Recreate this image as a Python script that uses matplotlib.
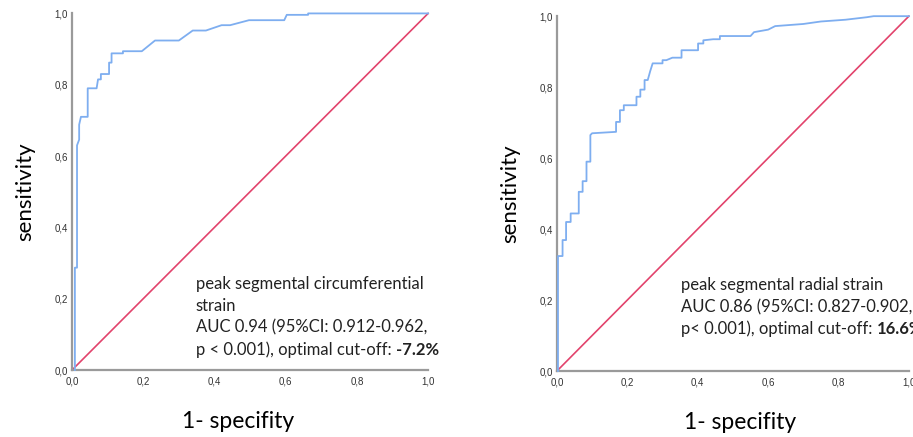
import numpy as np
import matplotlib
matplotlib.use("Agg")
import matplotlib.pyplot as plt
from matplotlib.ticker import FuncFormatter

# ROC curve vertices (fpr, tpr)
circ_fpr = [0.008, 0.008, 0.014, 0.014, 0.020, 0.020, 0.025, 0.044, 0.044, 0.069, 0.073, 0.081,
            0.081, 0.104, 0.104, 0.111, 0.111, 0.143, 0.143, 0.196, 0.233, 0.300, 0.339, 0.376,
            0.420, 0.444, 0.497, 0.596, 0.603, 0.663, 0.663, 1.0]
circ_tpr = [0.0, 0.287, 0.287, 0.630, 0.646, 0.688, 0.710, 0.710, 0.790, 0.790, 0.815, 0.815,
            0.830, 0.830, 0.862, 0.862, 0.888, 0.888, 0.894, 0.894, 0.924, 0.924, 0.952, 0.952,
            0.967, 0.967, 0.981, 0.981, 0.996, 0.996, 1.0, 1.0]

rad_fpr = [0.003, 0.003, 0.016, 0.016, 0.026, 0.026, 0.039, 0.039, 0.062, 0.062, 0.073, 0.073,
           0.084, 0.084, 0.095, 0.095, 0.100, 0.168, 0.168, 0.179, 0.179, 0.190, 0.190, 0.226,
           0.226, 0.237, 0.237, 0.249, 0.249, 0.258, 0.265, 0.272, 0.300, 0.300, 0.311, 0.328,
           0.354, 0.354, 0.401, 0.401, 0.416, 0.416, 0.444, 0.463, 0.463, 0.550, 0.560, 0.600,
           0.620, 0.700, 0.750, 0.820, 0.880, 0.900, 1.0]
rad_tpr = [0.0, 0.324, 0.324, 0.369, 0.369, 0.420, 0.420, 0.444, 0.444, 0.505, 0.505, 0.535,
           0.535, 0.590, 0.590, 0.665, 0.670, 0.674, 0.702, 0.702, 0.735, 0.735, 0.749, 0.749,
           0.773, 0.773, 0.793, 0.793, 0.820, 0.820, 0.845, 0.867, 0.867, 0.876, 0.876, 0.883,
           0.883, 0.904, 0.904, 0.923, 0.923, 0.932, 0.935, 0.935, 0.944, 0.944, 0.955, 0.962,
           0.972, 0.978, 0.985, 0.990, 0.997, 1.0, 1.0]

ticks = [0.0, 0.2, 0.4, 0.6, 0.8, 1.0]

circ_text = ["peak segmental circumferential", "strain", "AUC 0.94 (95%CI: 0.912-0.962,",
             "p < 0.001), optimal cut-off: "]
circ_cut = "-7.2%"
rad_text = ["peak segmental radial strain", "AUC 0.86 (95%CI: 0.827-0.902,",
            "p< 0.001), optimal cut-off: "]
rad_cut = "16.6%"

blue = "#7eaef0"
red = "#e2436c"
grey = "#9a9a9a"
txt_font = "Lato"

fig = plt.figure(figsize=(9.13, 4.37), dpi=100)
ax1 = fig.add_axes([0.0789, 0.1533, 0.390, 0.816])
ax2 = fig.add_axes([0.6100, 0.1510, 0.3855, 0.812])

comma = FuncFormatter(lambda v, p: f"{v:.1f}".replace(".", ","))


def style(ax, xlab_x):
    ax.set_xlim(0, 1)
    ax.set_ylim(0, 1)
    for s in ["top", "right"]:
        ax.spines[s].set_visible(False)
    for s in ["left", "bottom"]:
        ax.spines[s].set_color(grey)
        ax.spines[s].set_linewidth(1.6)
    ax.set_xticks(ticks)
    ax.set_yticks(ticks)
    ax.xaxis.set_major_formatter(comma)
    ax.yaxis.set_major_formatter(comma)
    ax.tick_params(length=0, labelsize=7, colors="#333333")
    ax.tick_params(axis="x", pad=5)
    ax.tick_params(axis="y", pad=3)
    for lab in ax.get_xticklabels() + ax.get_yticklabels():
        lab.set_family("Liberation Sans")
    ax.set_ylabel("sensitivity", family=txt_font, fontsize=16, labelpad=14)
    ax.set_xlabel("1- specifity", family=txt_font, fontsize=16.5)
    ax.xaxis.set_label_coords(xlab_x, -0.115)


def block(ax, lines, cut, x, y, dy):
    t = None
    for i, line in enumerate(lines):
        t = ax.text(x, y - i * dy, line, transform=ax.transAxes, family=txt_font,
                    fontsize=12, va="baseline", ha="left", color="#222222")
    ax.annotate(cut, xy=(1, 0), xycoords=t, va="bottom", ha="left", family=txt_font,
                fontsize=12, weight="bold", color="#222222")


style(ax1, 0.466)
style(ax2, 0.52)
for ax in (ax1, ax2):
    ax.plot([0, 1], [0, 1], color=red, lw=1.2, clip_on=False, zorder=2)

ax1.plot(circ_fpr, circ_tpr, color=blue, lw=1.3, clip_on=False, zorder=3)
ax2.plot(rad_fpr, rad_tpr, color=blue, lw=1.3, clip_on=False, zorder=3)

block(ax1, circ_text, circ_cut, 0.348, 0.228, 0.062)
block(ax2, rad_text, rad_cut, 0.352, 0.228, 0.062)

fig.savefig("out.png", dpi=100)
